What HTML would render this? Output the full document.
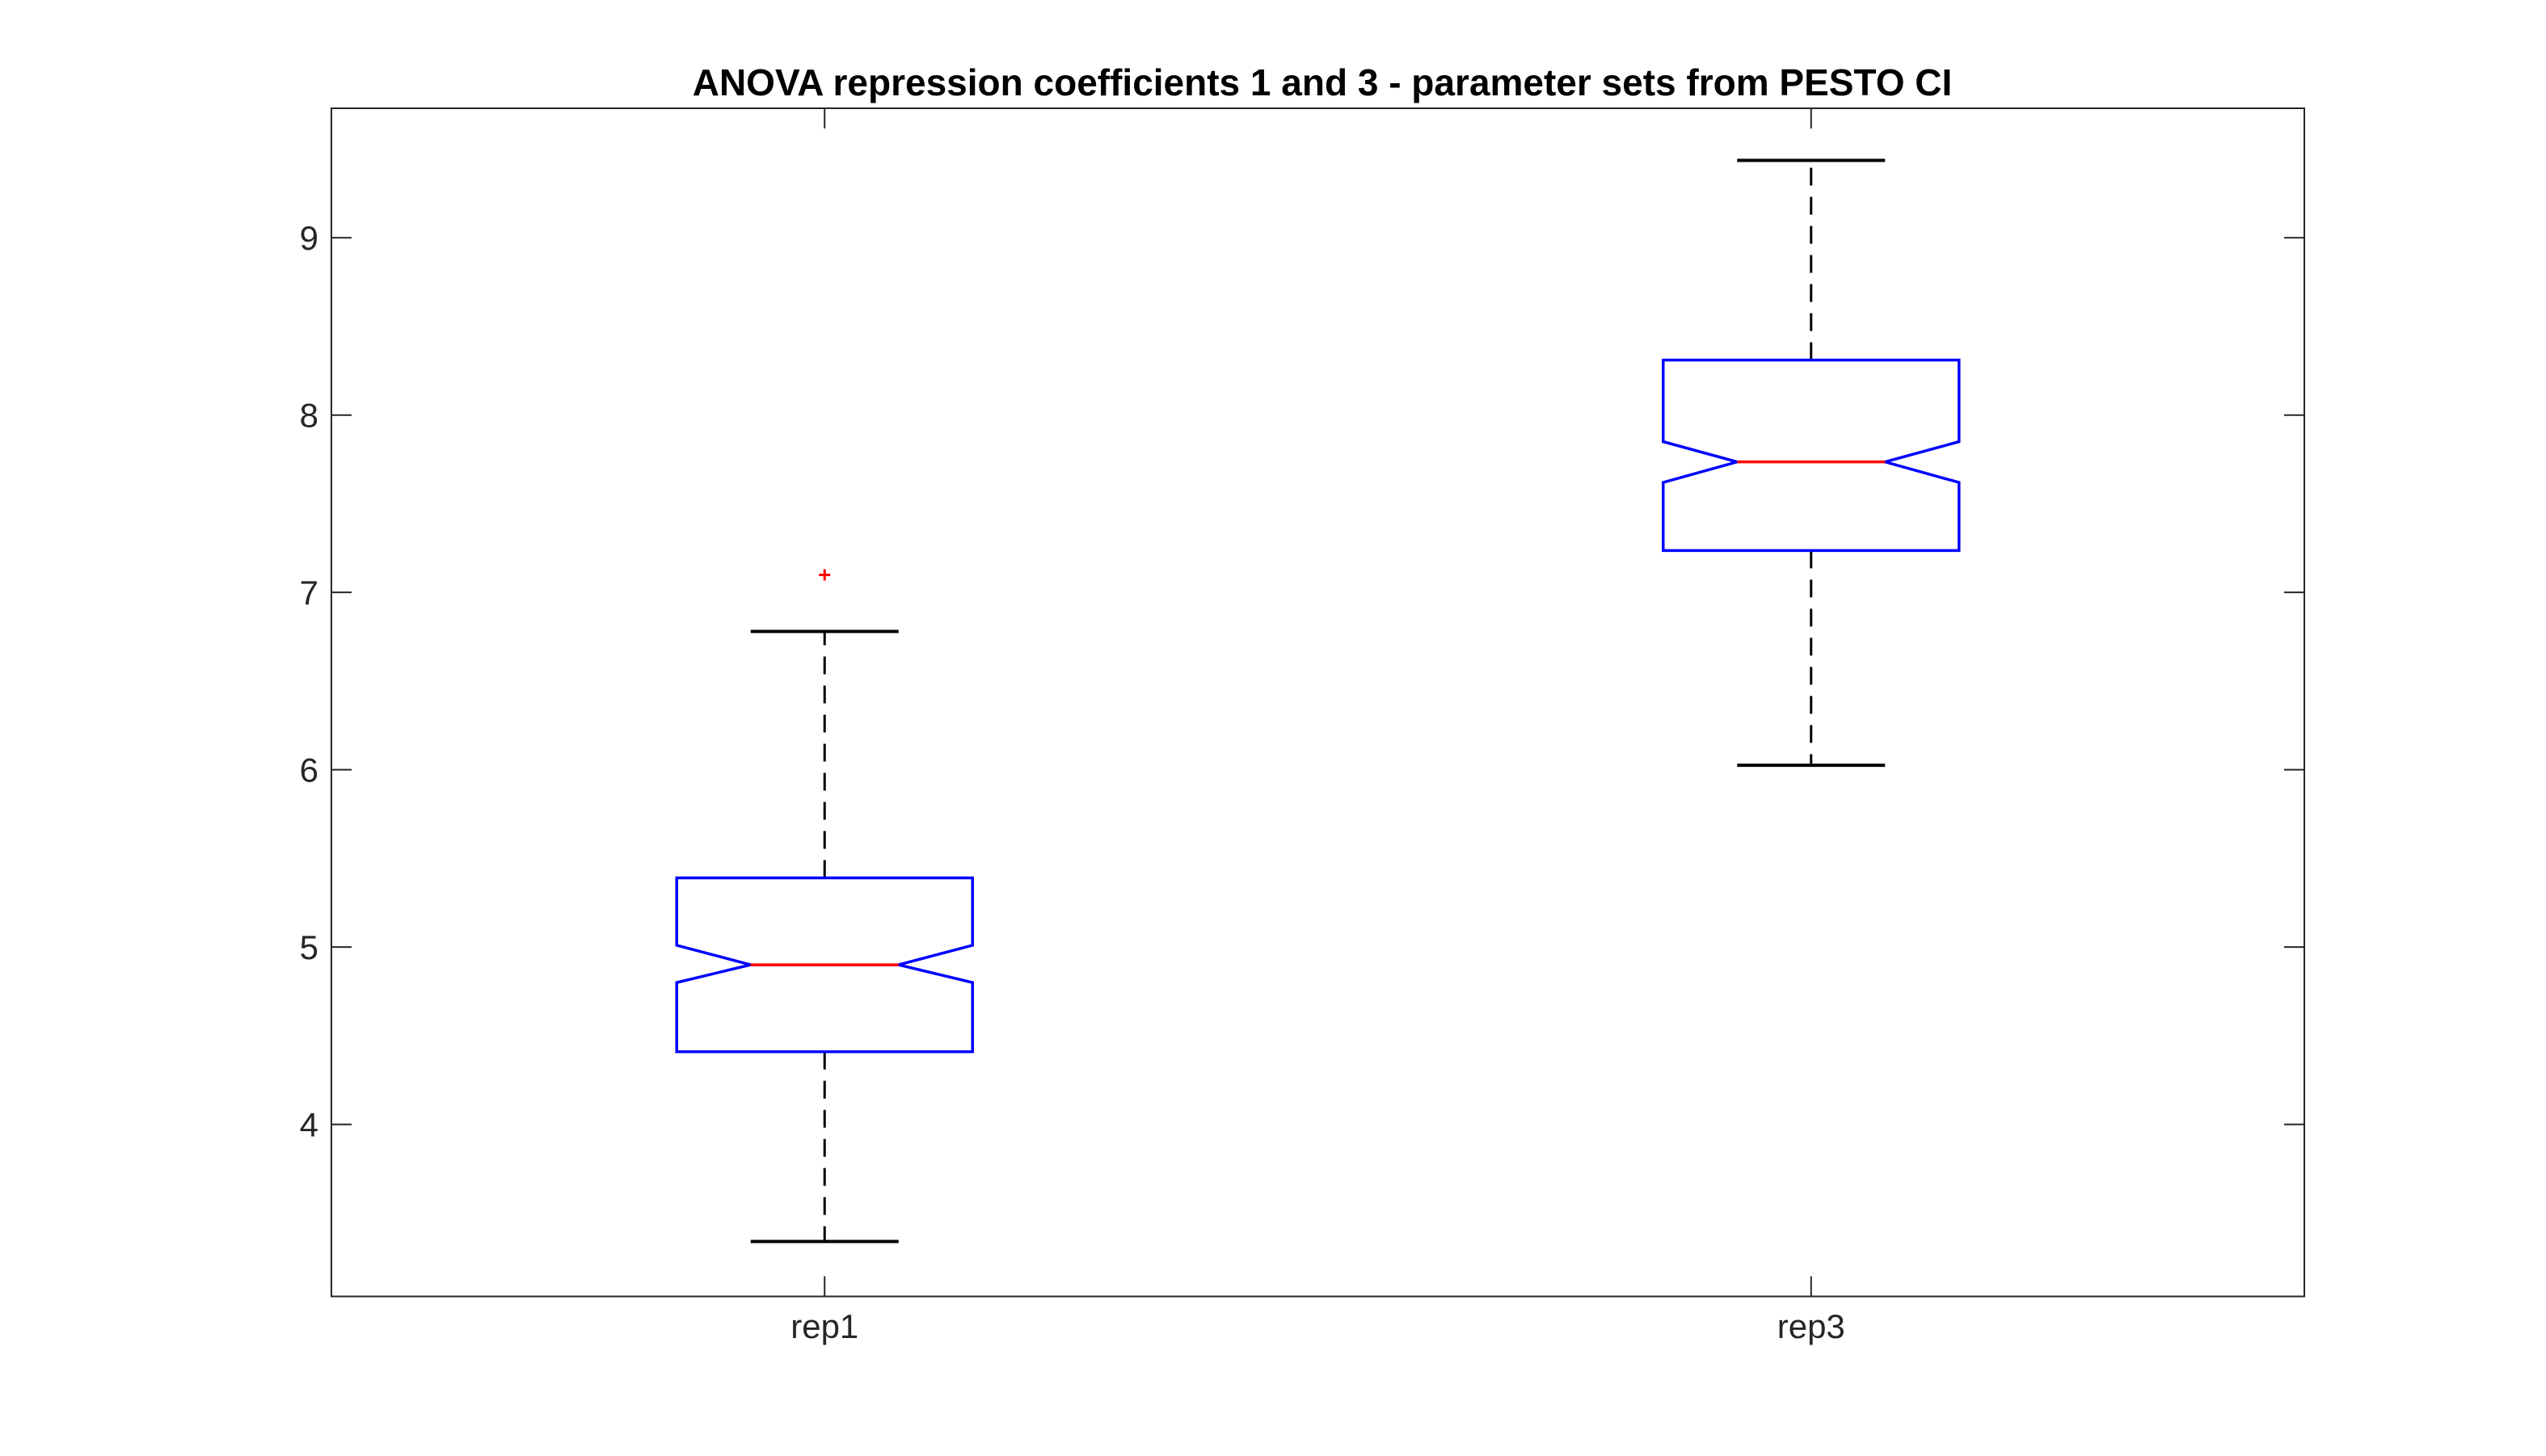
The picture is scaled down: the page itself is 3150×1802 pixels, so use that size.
<!DOCTYPE html>
<html><head><meta charset="utf-8"><style>
html,body{margin:0;padding:0;background:#fff;}
svg{display:block;font-family:"Liberation Sans",Arial,sans-serif;}
</style></head><body>
<svg id="chart" width="3150" height="1802" viewBox="0 0 3150 1802" xmlns="http://www.w3.org/2000/svg">
<rect x="0" y="0" width="3150" height="1802" fill="#fff"/>
<text x="1636" y="118" text-anchor="middle" font-size="46" font-weight="bold" fill="#000">ANOVA repression coefficients 1 and 3 - parameter sets from PESTO CI</text>
<g id="plot"></g>
</svg>
<script>
const categories = ["rep1", "rep3"];
const whiskerLow = [3.34, 6.025];
const q1 = [4.41, 7.236];
const medians = [4.90, 7.736];
const q3 = [5.39, 8.31];
const whiskerHigh = [6.78, 9.436];
const notchLow = [4.80, 7.62];
const notchHigh = [5.01, 7.85];
const outliers = [[7.099], []];
const yTicks = [4, 5, 6, 7, 8, 9];
const yMin = 3.03, yMax = 9.73;

const L = 410, R = 2851, T = 134, B = 1604.5;
const NS = 'http://www.w3.org/2000/svg';
const g = document.getElementById('plot');
function yS(v){ return B - (v - yMin) / (yMax - yMin) * (B - T); }
function xS(i){ return L + (i + 1 - 0.5) / 2 * (R - L); }
function mk(tag, attrs){ const e = document.createElementNS(NS, tag); for (const k in attrs) e.setAttribute(k, attrs[k]); g.appendChild(e); return e; }

let e = mk('rect', {x:L, y:T, width:R-L, height:B-T, fill:'none', stroke:'#262626', 'stroke-width':2});



const tl = 25;
yTicks.forEach(v => {
  const y = yS(v);
  let t = mk('path', {d:`M${L} ${y}H${L+tl}M${R} ${y}H${R-tl}`, stroke:'#262626', 'stroke-width':2});
  
  
  let lb = mk('text', {x:L-16, y:y+15, 'text-anchor':'end', 'font-size':42, fill:'#262626'});
  lb.textContent = v;
  
  
});

const halfBox = 183, halfNotch = 91.5;
categories.forEach((c, i) => {
  const x = xS(i);
  let t = mk('path', {d:`M${x} ${T}V${T+tl}M${x} ${B}V${B-tl}`, stroke:'#262626', 'stroke-width':2});
  
  
  let lb = mk('text', {x:x, y:1656, 'text-anchor':'middle', 'font-size':42, fill:'#262626'});
  lb.textContent = c;
  
  

  let w = mk('path', {d:`M${x} ${yS(q3[i])}V${yS(whiskerHigh[i])}M${x} ${yS(q1[i])}V${yS(whiskerLow[i])}`, stroke:'#000', 'stroke-width':3, 'stroke-dasharray':'22 14', fill:'none'});
  
  
  let cap = mk('path', {d:`M${x-halfNotch} ${yS(whiskerHigh[i])}H${x+halfNotch}M${x-halfNotch} ${yS(whiskerLow[i])}H${x+halfNotch}`, stroke:'#000', 'stroke-width':4});
  
  

  const yq1 = yS(q1[i]), yq3 = yS(q3[i]), ym = yS(medians[i]), ynl = yS(notchLow[i]), ynh = yS(notchHigh[i]);
  const d = `M${x-halfBox} ${yq1}L${x-halfBox} ${ynl}L${x-halfNotch} ${ym}L${x-halfBox} ${ynh}L${x-halfBox} ${yq3}L${x+halfBox} ${yq3}L${x+halfBox} ${ynh}L${x+halfNotch} ${ym}L${x+halfBox} ${ynl}L${x+halfBox} ${yq1}Z`;
  let b = mk('path', {d:d, fill:'none', stroke:'#0000ff', 'stroke-width':3.5, 'stroke-linejoin':'miter'});
  
  
  let m = mk('path', {d:`M${x-halfNotch} ${ym}H${x+halfNotch}`, stroke:'#ff0000', 'stroke-width':3.5});
  
  

  outliers[i].forEach(v => {
    const y = yS(v);
    let o = mk('path', {d:`M${x-7} ${y}H${x+7}M${x} ${y-7}V${y+7}`, stroke:'#ff0000', 'stroke-width':3});
    
    
  });
});
</script>
</body></html>
